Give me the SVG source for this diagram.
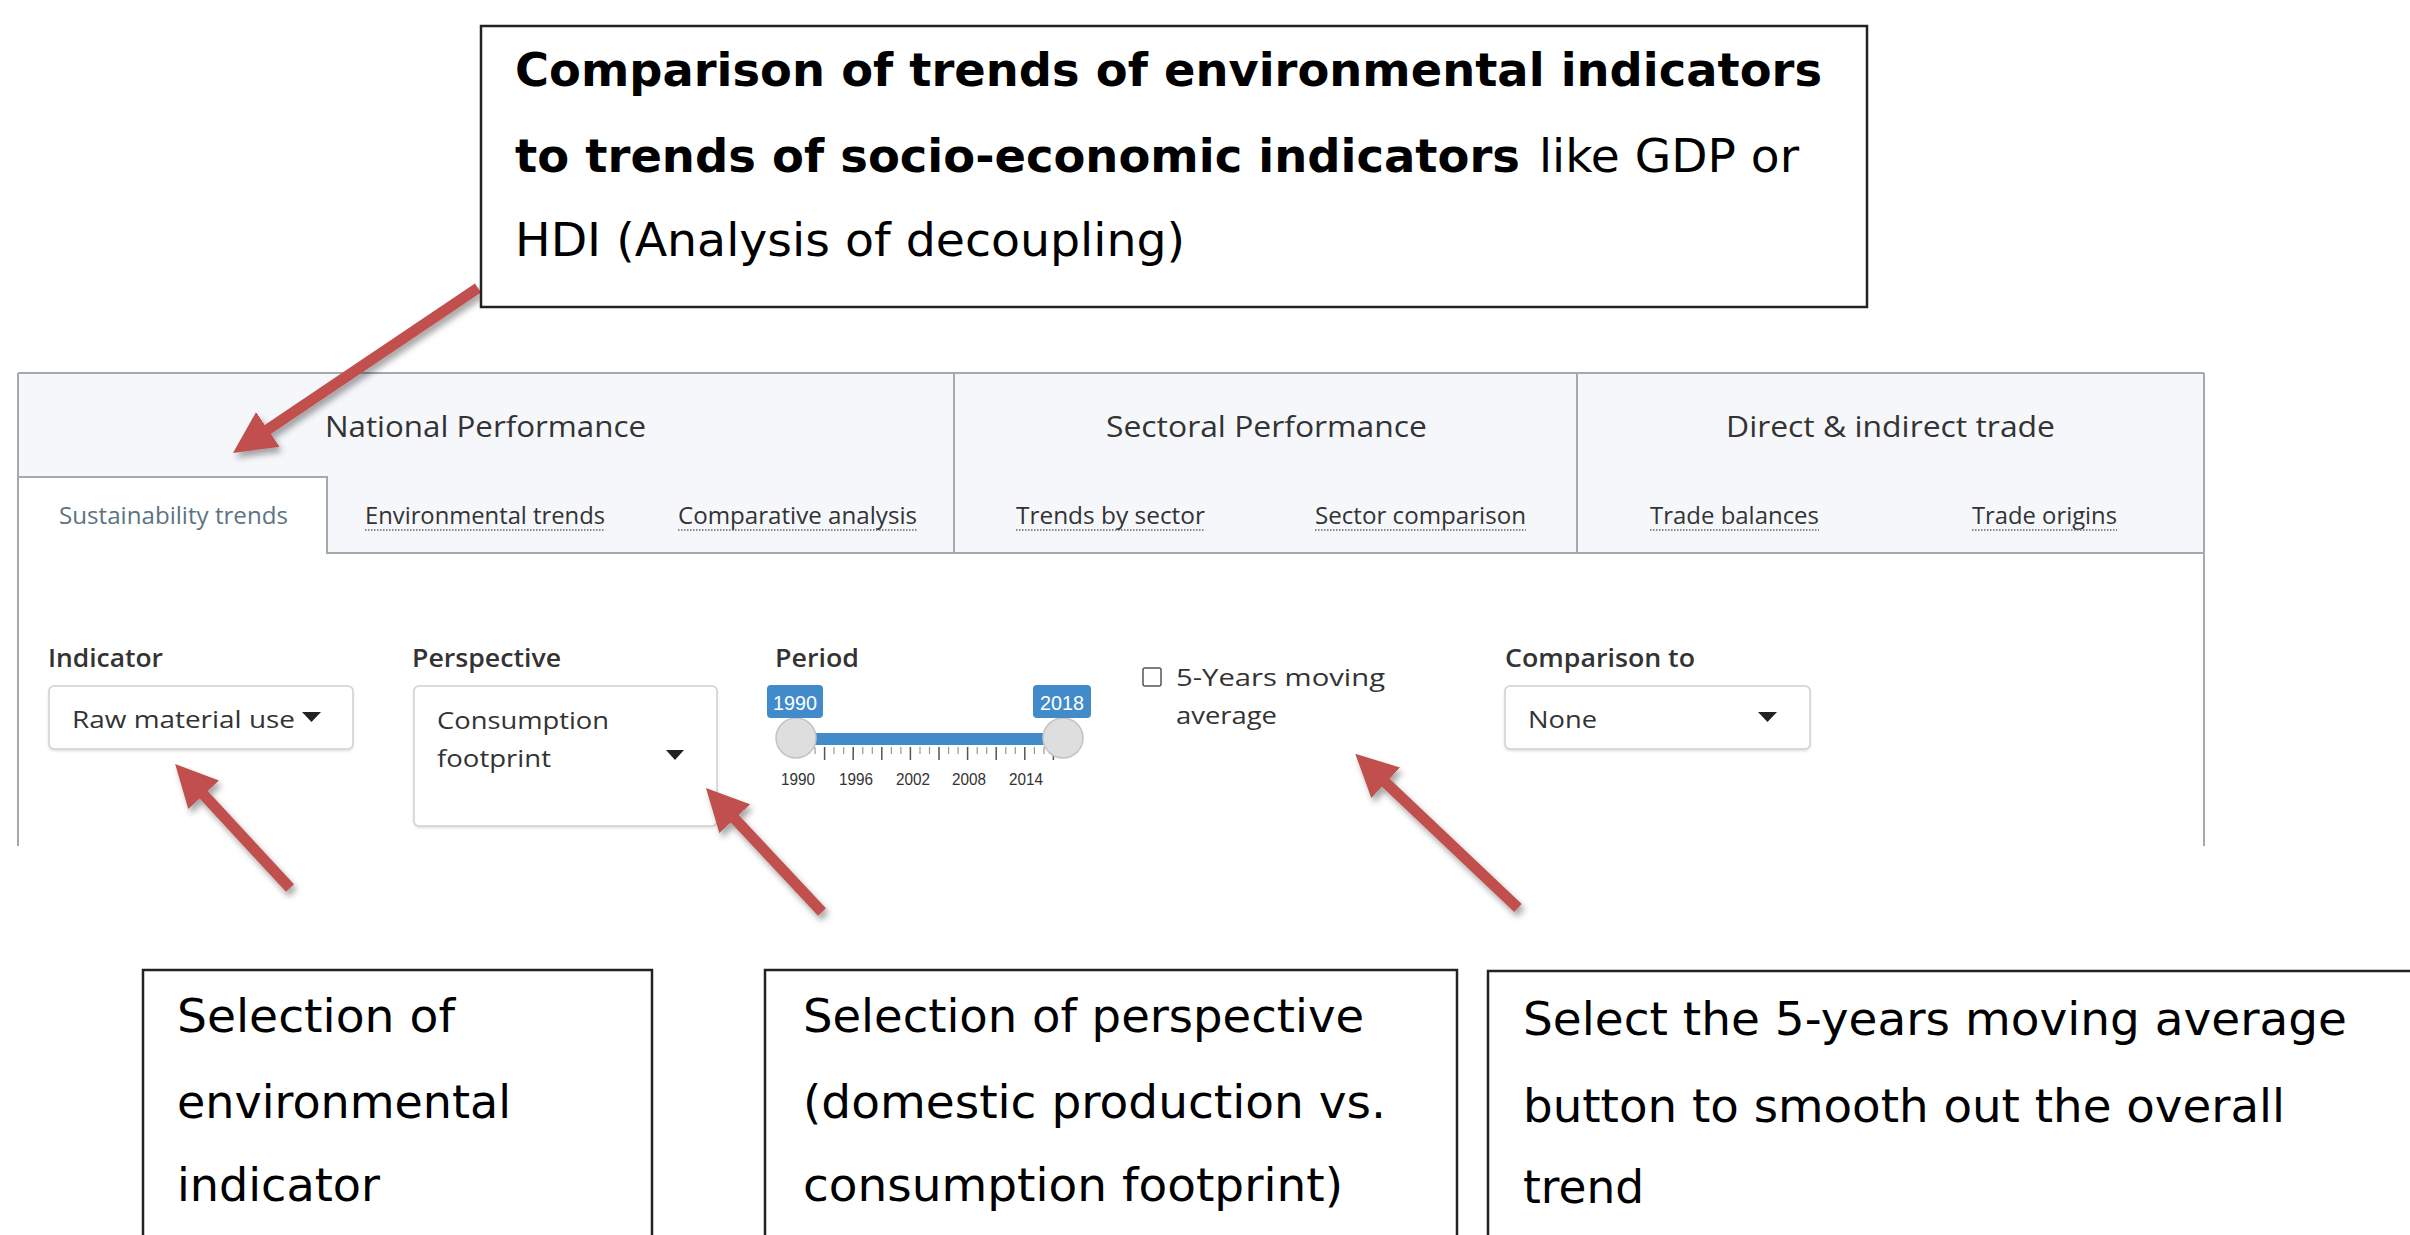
<svg xmlns="http://www.w3.org/2000/svg" width="2410" height="1235" viewBox="0 0 2410 1235">
<style>
.cbox{fill:#fff;stroke:#222;stroke-width:2.5}
.ct{font-family:"DejaVu Sans",Verdana,sans-serif;font-size:46px;fill:#000}
.b{font-weight:bold}
.ui{font-family:"Open Sans","Noto Sans",sans-serif;fill:#333}
.hdr{font-size:30px;font-weight:500}
.sub{font-size:24px}
.lbl{font-size:26px;font-weight:600}
.val{font-size:24px}
.edge{stroke:#a2aaaa;stroke-width:2;fill:none}
.dots{stroke:#666;stroke-width:1.5;stroke-dasharray:1.5 1.5}
.sel{fill:#fff;stroke:#cfcfcf;stroke-width:1.5}
.tri{fill:#222}
.blue{fill:#428bca}
.knob{fill:#dedede;stroke:#c4c4c4;stroke-width:1.5}
.tk{font-family:"Liberation Sans",Arial,sans-serif;font-size:17px;fill:#333;text-anchor:middle}
.tkl{stroke:#555;stroke-width:1.5}
.tks{stroke:#999;stroke-width:1.2}
.arr{stroke:#c0504d;stroke-width:11;fill:none;marker-end:url(#ah)}
</style>
<defs>
<marker id="ah" markerUnits="userSpaceOnUse" viewBox="0 0 42 42" refX="1" refY="21" markerWidth="42" markerHeight="42" orient="auto">
<path d="M0,0 L42,21 L0,42 Z" fill="#c0504d"/>
</marker>
<filter id="sh" x="-20%" y="-20%" width="140%" height="140%">
<feDropShadow dx="3" dy="5" stdDeviation="3" flood-color="#000" flood-opacity="0.35"/>
</filter>
<filter id="ssh" x="-10%" y="-10%" width="120%" height="130%">
<feDropShadow dx="0" dy="1.5" stdDeviation="1" flood-color="#000" flood-opacity="0.12"/>
</filter>
</defs>
<rect width="2410" height="1235" fill="#fff"/>

<g id="panel">
<rect x="18" y="373" width="2186" height="180" fill="#f5f7fb"/>
<rect x="18" y="477" width="309" height="78" fill="#fff"/>
<line class="edge" x1="18" y1="373" x2="2204" y2="373"/>
<line class="edge" x1="18" y1="373" x2="18" y2="846"/>
<line class="edge" x1="2204" y1="373" x2="2204" y2="846"/>
<line class="edge" x1="954" y1="373" x2="954" y2="553"/>
<line class="edge" x1="1577" y1="373" x2="1577" y2="553"/>
<polyline class="edge" points="18,477 327,477 327,553 2204,553"/>
<text class="ui hdr" x="325" y="437" textLength="321" lengthAdjust="spacingAndGlyphs">National Performance</text>
<text class="ui hdr" x="1106" y="437" textLength="321" lengthAdjust="spacingAndGlyphs">Sectoral Performance</text>
<text class="ui hdr" x="1726" y="437" textLength="329" lengthAdjust="spacingAndGlyphs">Direct &amp; indirect trade</text>
<text class="ui sub" x="59" y="524" textLength="229" lengthAdjust="spacingAndGlyphs" style="fill:#5d7382">Sustainability trends</text>
<text class="ui sub" x="365" y="524" textLength="240" lengthAdjust="spacingAndGlyphs">Environmental trends</text>
<text class="ui sub" x="678" y="524" textLength="239" lengthAdjust="spacingAndGlyphs">Comparative analysis</text>
<text class="ui sub" x="1016" y="524" textLength="189" lengthAdjust="spacingAndGlyphs">Trends by sector</text>
<text class="ui sub" x="1315" y="524" textLength="211" lengthAdjust="spacingAndGlyphs">Sector comparison</text>
<text class="ui sub" x="1650" y="524" textLength="169" lengthAdjust="spacingAndGlyphs">Trade balances</text>
<text class="ui sub" x="1972" y="524" textLength="145" lengthAdjust="spacingAndGlyphs">Trade origins</text>
<line class="dots" x1="365" y1="530" x2="605" y2="530"/>
<line class="dots" x1="678" y1="530" x2="917" y2="530"/>
<line class="dots" x1="1016" y1="530" x2="1205" y2="530"/>
<line class="dots" x1="1315" y1="530" x2="1526" y2="530"/>
<line class="dots" x1="1650" y1="530" x2="1819" y2="530"/>
<line class="dots" x1="1972" y1="530" x2="2117" y2="530"/>
</g>

<g id="indicator-input">
<text class="ui lbl" x="48" y="667" textLength="115" lengthAdjust="spacingAndGlyphs">Indicator</text>
<rect class="sel" x="49" y="686" width="304" height="63" rx="5" filter="url(#ssh)"/>
<text class="ui val" x="72" y="728" textLength="223" lengthAdjust="spacingAndGlyphs">Raw material use</text>
<path class="tri" d="M302,712 L321,712 L311.5,722 Z"/>
</g>

<g id="perspective-input">
<text class="ui lbl" x="412" y="667" textLength="149" lengthAdjust="spacingAndGlyphs">Perspective</text>
<rect class="sel" x="414" y="686" width="303" height="140" rx="5" filter="url(#ssh)"/>
<text class="ui val" x="437" y="729" textLength="172" lengthAdjust="spacingAndGlyphs">Consumption</text>
<text class="ui val" x="437" y="767" textLength="114" lengthAdjust="spacingAndGlyphs">footprint</text>
<path class="tri" d="M666,750 L684,750 L675,760 Z"/>
</g>

<g id="period-input">
<text class="ui lbl" x="775" y="667" textLength="84" lengthAdjust="spacingAndGlyphs">Period</text>
<g id="ticks">
<line class="tks" x1="805.5" y1="747" x2="805.5" y2="754"/>
<line class="tks" x1="815" y1="747" x2="815" y2="754"/>
<line class="tkl" x1="824.6" y1="747" x2="824.6" y2="760"/>
<line class="tks" x1="834" y1="747" x2="834" y2="754"/>
<line class="tks" x1="843.7" y1="747" x2="843.7" y2="754"/>
<line class="tkl" x1="853.2" y1="747" x2="853.2" y2="760"/>
<line class="tks" x1="862.8" y1="747" x2="862.8" y2="754"/>
<line class="tks" x1="872.3" y1="747" x2="872.3" y2="754"/>
<line class="tkl" x1="881.8" y1="747" x2="881.8" y2="760"/>
<line class="tks" x1="891.4" y1="747" x2="891.4" y2="754"/>
<line class="tks" x1="900.9" y1="747" x2="900.9" y2="754"/>
<line class="tkl" x1="910.4" y1="747" x2="910.4" y2="760"/>
<line class="tks" x1="920" y1="747" x2="920" y2="754"/>
<line class="tks" x1="929.5" y1="747" x2="929.5" y2="754"/>
<line class="tkl" x1="939" y1="747" x2="939" y2="760"/>
<line class="tks" x1="948.6" y1="747" x2="948.6" y2="754"/>
<line class="tks" x1="958.1" y1="747" x2="958.1" y2="754"/>
<line class="tkl" x1="967.6" y1="747" x2="967.6" y2="760"/>
<line class="tks" x1="977.2" y1="747" x2="977.2" y2="754"/>
<line class="tks" x1="986.7" y1="747" x2="986.7" y2="754"/>
<line class="tkl" x1="996.2" y1="747" x2="996.2" y2="760"/>
<line class="tks" x1="1005.8" y1="747" x2="1005.8" y2="754"/>
<line class="tks" x1="1015.3" y1="747" x2="1015.3" y2="754"/>
<line class="tkl" x1="1024.8" y1="747" x2="1024.8" y2="760"/>
<line class="tks" x1="1034.4" y1="747" x2="1034.4" y2="754"/>
<line class="tks" x1="1043.9" y1="747" x2="1043.9" y2="754"/>
<line class="tkl" x1="1053.4" y1="747" x2="1053.4" y2="760"/>
</g>
<rect class="blue" x="796" y="733" width="267" height="12"/>
<circle class="knob" cx="796" cy="738" r="20"/>
<circle class="knob" cx="1063" cy="738" r="20"/>
<rect class="blue" x="767" y="685" width="56" height="33" rx="4"/>
<rect class="blue" x="1033" y="685" width="58" height="33" rx="4"/>
<text x="795" y="710" font-family="Liberation Sans, Arial, sans-serif" font-size="20" fill="#fff" text-anchor="middle" textLength="44" lengthAdjust="spacingAndGlyphs">1990</text>
<text x="1062" y="710" font-family="Liberation Sans, Arial, sans-serif" font-size="20" fill="#fff" text-anchor="middle" textLength="44" lengthAdjust="spacingAndGlyphs">2018</text>
<text class="tk" x="798" y="785" textLength="34" lengthAdjust="spacingAndGlyphs">1990</text>
<text class="tk" x="856" y="785" textLength="34" lengthAdjust="spacingAndGlyphs">1996</text>
<text class="tk" x="913" y="785" textLength="34" lengthAdjust="spacingAndGlyphs">2002</text>
<text class="tk" x="969" y="785" textLength="34" lengthAdjust="spacingAndGlyphs">2008</text>
<text class="tk" x="1026" y="785" textLength="34" lengthAdjust="spacingAndGlyphs">2014</text>
</g>

<g id="moving-average-input">
<rect x="1143" y="668" width="18" height="18" rx="2" fill="#fff" stroke="#555" stroke-width="1.5"/>
<text class="ui val" x="1176" y="686" textLength="209" lengthAdjust="spacingAndGlyphs">5-Years moving</text>
<text class="ui val" x="1176" y="724" textLength="101" lengthAdjust="spacingAndGlyphs">average</text>
</g>

<g id="comparison-input">
<text class="ui lbl" x="1505" y="667" textLength="190" lengthAdjust="spacingAndGlyphs">Comparison to</text>
<rect class="sel" x="1505" y="686" width="305" height="63" rx="5" filter="url(#ssh)"/>
<text class="ui val" x="1528" y="728" textLength="69" lengthAdjust="spacingAndGlyphs">None</text>
<path class="tri" d="M1758,712 L1777,712 L1767.5,722 Z"/>
</g>

<g id="connectors" filter="url(#sh)">
<line class="arr" x1="478" y1="288" x2="267" y2="430"/>
<line class="arr" x1="290" y1="888" x2="203" y2="794"/>
<line class="arr" x1="822" y1="912" x2="734" y2="818"/>
<line class="arr" x1="1518" y1="908" x2="1385" y2="782"/>
</g>

<g id="callout-decoupling">
<rect class="cbox" x="481" y="26" width="1386" height="281"/>
<text class="ct b" x="515" y="86" textLength="1307" lengthAdjust="spacingAndGlyphs">Comparison of trends of environmental indicators</text>
<text class="ct b" x="515" y="172" textLength="1005" lengthAdjust="spacingAndGlyphs">to trends of socio-economic indicators</text>
<text class="ct" x="1539" y="172" textLength="260" lengthAdjust="spacingAndGlyphs">like GDP or</text>
<text class="ct" x="515" y="256" textLength="670" lengthAdjust="spacingAndGlyphs">HDI (Analysis of decoupling)</text>
</g>

<g id="callout-indicator">
<rect class="cbox" x="143" y="970" width="509" height="290"/>
<text class="ct" x="177" y="1032" textLength="278" lengthAdjust="spacingAndGlyphs">Selection of</text>
<text class="ct" x="177" y="1118" textLength="334" lengthAdjust="spacingAndGlyphs">environmental</text>
<text class="ct" x="177" y="1201" textLength="203" lengthAdjust="spacingAndGlyphs">indicator</text>
</g>

<g id="callout-perspective">
<rect class="cbox" x="765" y="970" width="692" height="290"/>
<text class="ct" x="803" y="1032" textLength="561" lengthAdjust="spacingAndGlyphs">Selection of perspective</text>
<text class="ct" x="803" y="1118" textLength="583" lengthAdjust="spacingAndGlyphs">(domestic production vs.</text>
<text class="ct" x="803" y="1201" textLength="540" lengthAdjust="spacingAndGlyphs">consumption footprint)</text>
</g>

<g id="callout-average">
<rect class="cbox" x="1488" y="971" width="960" height="290"/>
<text class="ct" x="1523" y="1035" textLength="824" lengthAdjust="spacingAndGlyphs">Select the 5-years moving average</text>
<text class="ct" x="1523" y="1122" textLength="762" lengthAdjust="spacingAndGlyphs">button to smooth out the overall</text>
<text class="ct" x="1523" y="1203" textLength="121" lengthAdjust="spacingAndGlyphs">trend</text>
</g>
</svg>
